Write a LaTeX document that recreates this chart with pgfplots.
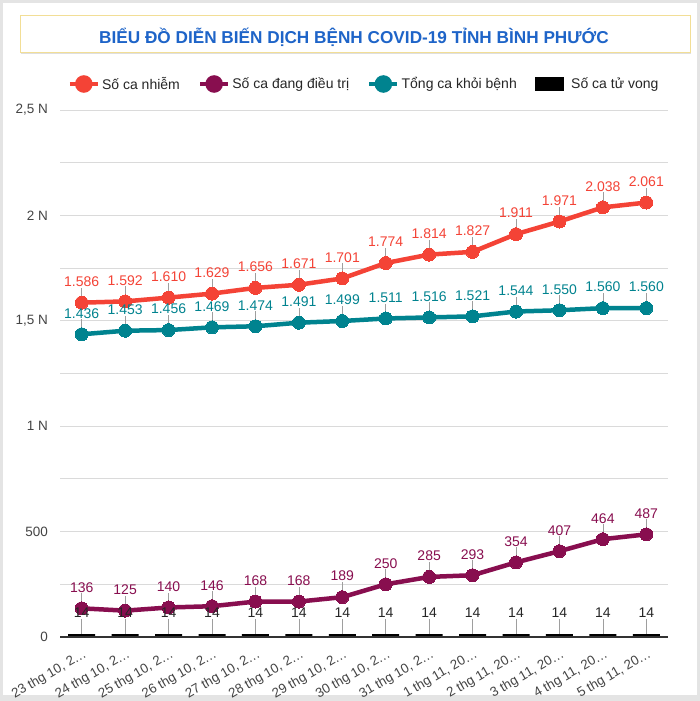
\documentclass[border=0pt]{standalone}
\usepackage{pgfplots}
\pgfplotsset{compat=1.18}
\usepackage{pgfplotstable}
\usepackage{fontspec}
\setmainfont{Liberation Sans}
\usetikzlibrary{shadows}
\definecolor{cRed}{HTML}{F44336}
\definecolor{cPur}{HTML}{880E4F}
\definecolor{cTeal}{HTML}{00838F}
\definecolor{cTitle}{HTML}{1E64C8}
\definecolor{cGrid}{HTML}{DADADA}
\definecolor{cTick}{HTML}{444444}
\definecolor{cBorder}{HTML}{E4E4E4}
\definecolor{cStem}{HTML}{9E9E9E}
\pgfplotsset{
  legline/.style={legend image code/.code={\draw[mark repeat=2,mark phase=2,##1] plot coordinates {(0pt,0pt) (14pt,0pt) (28pt,0pt)};}},
  legbox/.style={legend image code/.code={\fill[##1] (0pt,-6.5pt) rectangle (28pt,6.5pt); \path (34pt,0pt);}},
  stem/.style={draw=none, mark=none, forget plot, error bars/.cd, y dir=plus, y fixed=71, error mark=none, error bar style={draw=cStem, line width=0.7pt}},
  lbl/.style={draw=none, mark=none, forget plot, nodes near coords,
    every node near coord/.style={font=\fontsize{14}{16}\selectfont, text=#1, anchor=center, inner sep=0pt, yshift=21pt}},
  serie/.style={#1, line width=4.5pt, mark=*, mark size=6.5pt, mark options={solid, fill=#1, draw=#1, line width=0pt}, forget plot},
}
\pgfplotstableread{
i nhiem dieutri khoi tuvong
0 1586 136 1436 14
1 1592 125 1453 14
2 1610 140 1456 14
3 1629 146 1469 14
4 1656 168 1474 14
5 1671 168 1491 14
6 1701 189 1499 14
7 1774 250 1511 14
8 1814 285 1516 14
9 1827 293 1521 14
10 1911 354 1544 14
11 1971 407 1550 14
12 2038 464 1560 14
13 2061 487 1560 14
}\data
\begin{document}
\begin{tikzpicture}
\fill[cBorder] (0pt,0pt) rectangle (700pt,701pt);
\fill[white] (3pt,6pt) rectangle (697pt,698pt);
\draw[draw={rgb,255:red,242;green,222;blue,150}, line width=0.8pt, fill=white, drop shadow={opacity=0.25, shadow xshift=1pt, shadow yshift=-1.8pt}] (20pt,649pt) rectangle (690pt,686pt);
\node[font=\fontsize{17.2}{20}\selectfont\bfseries, text=cTitle, anchor=base] at (354pt,657.8pt) {BIỂU ĐỒ DIỄN BIẾN DỊCH BỆNH COVID-19 TỈNH BÌNH PHƯỚC};
\begin{axis}[at={(60pt,64pt)}, anchor=south west, scale only axis,
  width=608pt, height=527pt,
  xmin=-0.5, xmax=13.5, ymin=0, ymax=2500, clip=false,
  axis line style={draw=none},
  major tick length=0pt, minor tick length=0pt,
  xtick={0,...,13},
  xticklabels={{23 thg 10, 2…},{24 thg 10, 2…},{25 thg 10, 2…},{26 thg 10, 2…},{27 thg 10, 2…},{28 thg 10, 2…},{29 thg 10, 2…},{30 thg 10, 2…},{31 thg 10, 2…},{1 thg 11, 20…},{2 thg 11, 20…},{3 thg 11, 20…},{4 thg 11, 20…},{5 thg 11, 20…}},
  ytick={0,500,1000,1500,2000,2500},
  yticklabels={0,500,1 N,{1,5 N},2 N,{2,5 N}},
  minor ytick={250,750,1250,1750,2250},
  ymajorgrids, yminorgrids,
  grid style={cGrid, line width=0.8pt},
  minor grid style={cGrid, line width=0.8pt},
  yticklabel style={font=\fontsize{13.5}{15}\selectfont, text=cTick, anchor=east, xshift=-8.5pt},
  xticklabel style={font=\fontsize{13.3}{15}\selectfont, text=cTick, rotate=30, anchor=north east, yshift=-6.5pt, xshift=-1.5pt},
  /pgf/number format/.cd, fixed, precision=0, 1000 sep={.}, assume math mode=true, /pgfplots/.cd,
  legend columns=4,
  legend cell align=left,
  legend style={at={(0.5,1)}, anchor=center, yshift=26pt, draw=none, fill=none,
    font=\fontsize{14}{16}\selectfont, text=black!85, inner sep=0pt,
    /tikz/every even column/.append style={column sep=16pt}},
]
\addlegendimage{legline, cRed, line width=4.5pt, mark=*, mark size=6.5pt, mark options={fill=cRed, draw=cRed}}
\addlegendentry{Số ca nhiễm}
\addlegendimage{legline, cPur, line width=4.5pt, mark=*, mark size=6.5pt, mark options={fill=cPur, draw=cPur}}
\addlegendentry{Số ca đang điều trị}
\addlegendimage{legline, cTeal, line width=4.5pt, mark=*, mark size=6.5pt, mark options={fill=cTeal, draw=cTeal}}
\addlegendentry{Tổng ca khỏi bệnh}
\addlegendimage{legbox, black, fill=black}
\addlegendentry{Số ca tử vong}

\addplot[stem] table[x=i, y=tuvong]{\data};
\addplot[stem] table[x=i, y=dieutri]{\data};
\addplot[stem] table[x=i, y=khoi]{\data};
\addplot[stem] table[x=i, y=nhiem]{\data};

\addplot[ybar, bar width=27pt, fill=black, draw=none, forget plot] table[x=i, y=tuvong]{\data};

\addplot[serie=cRed] table[x=i, y=nhiem]{\data};
\addplot[serie=cPur] table[x=i, y=dieutri]{\data};
\addplot[serie=cTeal] table[x=i, y=khoi]{\data};

\draw[black!80, line width=1.6pt] (axis cs:-0.5,0) -- (axis cs:13.5,0);

\addplot[lbl=black!85] table[x=i, y=tuvong]{\data};
\addplot[lbl=cPur] table[x=i, y=dieutri]{\data};
\addplot[lbl=cTeal] table[x=i, y=khoi]{\data};
\addplot[lbl=cRed] table[x=i, y=nhiem]{\data};
\end{axis}
\pgfresetboundingbox
\path[use as bounding box] (0pt,0pt) rectangle (700pt,701pt);
\end{tikzpicture}
\end{document}
